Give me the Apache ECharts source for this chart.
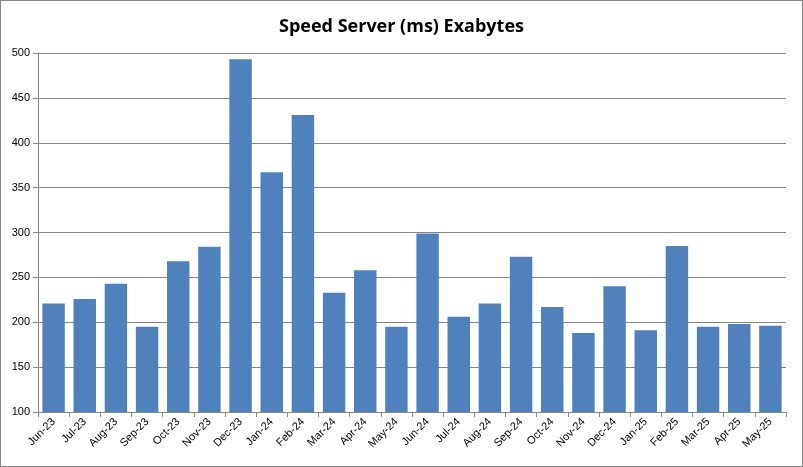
<!DOCTYPE html>
<html>
<head>
<meta charset="utf-8">
<script src="https://cdn.jsdelivr.net/npm/echarts@6/dist/echarts.min.js"></script>
<style>
  html, body { margin: 0; padding: 0; background: #fff; }
  #chart { width: 801px; height: 465px; border: 1px solid #888; }
</style>
</head>
<body>
<div id="chart"></div>
<script>
const months = ['Jun-23', 'Jul-23', 'Aug-23', 'Sep-23', 'Oct-23', 'Nov-23', 'Dec-23', 'Jan-24',
  'Feb-24', 'Mar-24', 'Apr-24', 'May-24', 'Jun-24', 'Jul-24', 'Aug-24', 'Sep-24', 'Oct-24',
  'Nov-24', 'Dec-24', 'Jan-25', 'Feb-25', 'Mar-25', 'Apr-25', 'May-25']
const speed = [221, 226, 243, 195, 268, 284, 493, 367, 431, 233, 258, 195, 299, 206, 221, 273,
  217, 188, 240, 191, 285, 195, 198, 196]

var myChart = echarts.init(document.getElementById('chart'))
myChart.setOption({
  animation: false,
  title: {
    text: 'Speed Server (ms) Exabytes',
    left: 'center',
    top: 12,
    textStyle: { fontFamily: 'Open Sans', fontWeight: 'bold', fontSize: 18, color: '#000' }
  },
  grid: { left: 37, right: 16, top: 52, bottom: 54 },
  xAxis: {
    type: 'category',
    data: months,
    axisLine: { lineStyle: { color: '#868686' } },
    axisTick: { show: true, alignWithLabel: false, lineStyle: { color: '#868686' } },
    axisLabel: { rotate: 45, interval: 0, fontSize: 11, color: '#000', fontFamily: 'Liberation Sans' }
  },
  yAxis: {
    type: 'value',
    min: 100,
    max: 500,
    interval: 50,
    axisLine: { show: true, lineStyle: { color: '#868686' } },
    axisTick: { show: true, lineStyle: { color: '#868686' } },
    axisLabel: { fontSize: 11, color: '#000', fontFamily: 'Liberation Sans' },
    splitLine: { lineStyle: { color: '#868686' } }
  },
  series: [
    {
      type: 'bar',
      data: speed,
      barCategoryGap: '28%',
      itemStyle: { color: '#4f81bd' }
    }
  ]
})
</script>
</body>
</html>
